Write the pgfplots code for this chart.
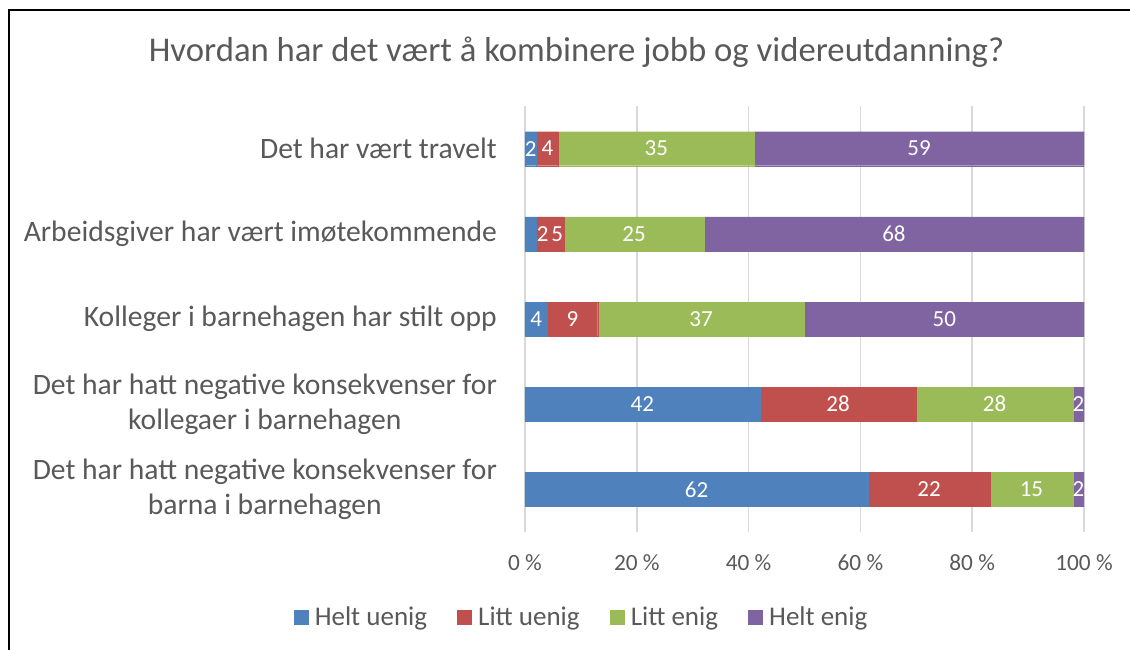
\documentclass[border=0pt]{standalone}
\usepackage{pgfplots}
\pgfplotsset{compat=1.18}
\usepackage{fontspec}
\setmainfont{Carlito}
\definecolor{cblue}{HTML}{4F81BD}
\definecolor{cred}{HTML}{C0504D}
\definecolor{cgreen}{HTML}{9BBB59}
\definecolor{cpurple}{HTML}{8064A2}
\definecolor{txt}{HTML}{595959}
\definecolor{gridc}{HTML}{D9D9D9}
\begin{document}
\begin{tikzpicture}[x=1pt,y=1pt]
\useasboundingbox (0,0) rectangle (1130,650);
\draw[line width=2pt] (9,0) -- (9,640) -- (1130,640);
\node[anchor=base, text=txt, font=\fontsize{34.7}{40}\selectfont, inner sep=0pt] at (576.5,588) {Hvordan har det vært å kombinere jobb og videreutdanning?};
\begin{axis}[
  at={(525pt,118pt)}, anchor=south west,
  width=559pt, height=426pt, scale only axis,
  xbar stacked, bar width=34pt,
  xmin=0, xmax=100, ymin=-0.5, ymax=4.5, y dir=reverse,
  enlargelimits=false,
  xtick={0,20,40,60,80,100},
  xticklabels={0 \%,20 \%,40 \%,60 \%,80 \%,100 \%},
  ytick={0,1,2,3,4},
  yticklabels={Det har vært travelt, Arbeidsgiver har vært imøtekommende, Kolleger i barnehagen har stilt opp, {Det har hatt negative konsekvenser for\\kollegaer i barnehagen}, {Det har hatt negative konsekvenser for\\barna i barnehagen}},
  axis line style={draw=none}, tick style={draw=none},
  xmajorgrids, major grid style={color=gridc, line width=1.5pt},
  x tick label style={font=\fontsize{23.3}{28}\selectfont, color=txt, anchor=north, inner sep=0pt, yshift=-22pt},
  y tick label style={font=\fontsize{29.6}{35}\selectfont, color=txt, align=center, anchor=east, inner sep=0pt, xshift=-28pt},
  nodes near coords, point meta=explicit symbolic,
  every node near coord/.append style={color=white, font=\fontsize{23}{28}\selectfont},
  legend columns=4,
  legend style={at={(0.0993,-0.1995)}, anchor=center, draw=none, font=\fontsize{27}{31}\selectfont,
    nodes={inner sep=0pt},
    /tikz/every odd column/.append style={column sep=7pt},
    /tikz/every even column/.append style={column sep=30pt}},
  legend image code/.code={\fill[#1] (0pt,-7pt) rectangle (14pt,7pt);},
]
\addplot[fill=cblue, draw=cblue, line width=0.1pt, nodes near coords={\ifnum\coordindex=1 \hspace*{24pt}\fi\pgfplotspointmeta}] table[x=x,y=y,meta=l] {
x y l
2 0 2
2 1 2
4 2 4
42 3 42
61.386 4 62
};
\addplot[fill=cred, draw=cred, line width=0.1pt, nodes near coords={\ifnum\coordindex=1 \hspace*{14pt}\fi\pgfplotspointmeta}] table[x=x,y=y,meta=l] {
x y l
4 0 4
5 1 5
9 2 9
28 3 28
21.782 4 22
};
\addplot[fill=cgreen, draw=cgreen, line width=0.1pt] table[x=x,y=y,meta=l] {
x y l
35 0 35
25 1 25
37 2 37
28 3 28
14.851 4 15
};
\addplot[fill=cpurple, draw=cpurple, line width=0.1pt] table[x=x,y=y,meta=l] {
x y l
59 0 59
68 1 68
50 2 50
2 3 2
1.980 4 2
};
\legend{\textcolor{txt}{Helt uenig}, \textcolor{txt}{Litt uenig}, \textcolor{txt}{Litt enig}, \textcolor{txt}{Helt enig}}
\end{axis}
\end{tikzpicture}
\end{document}
